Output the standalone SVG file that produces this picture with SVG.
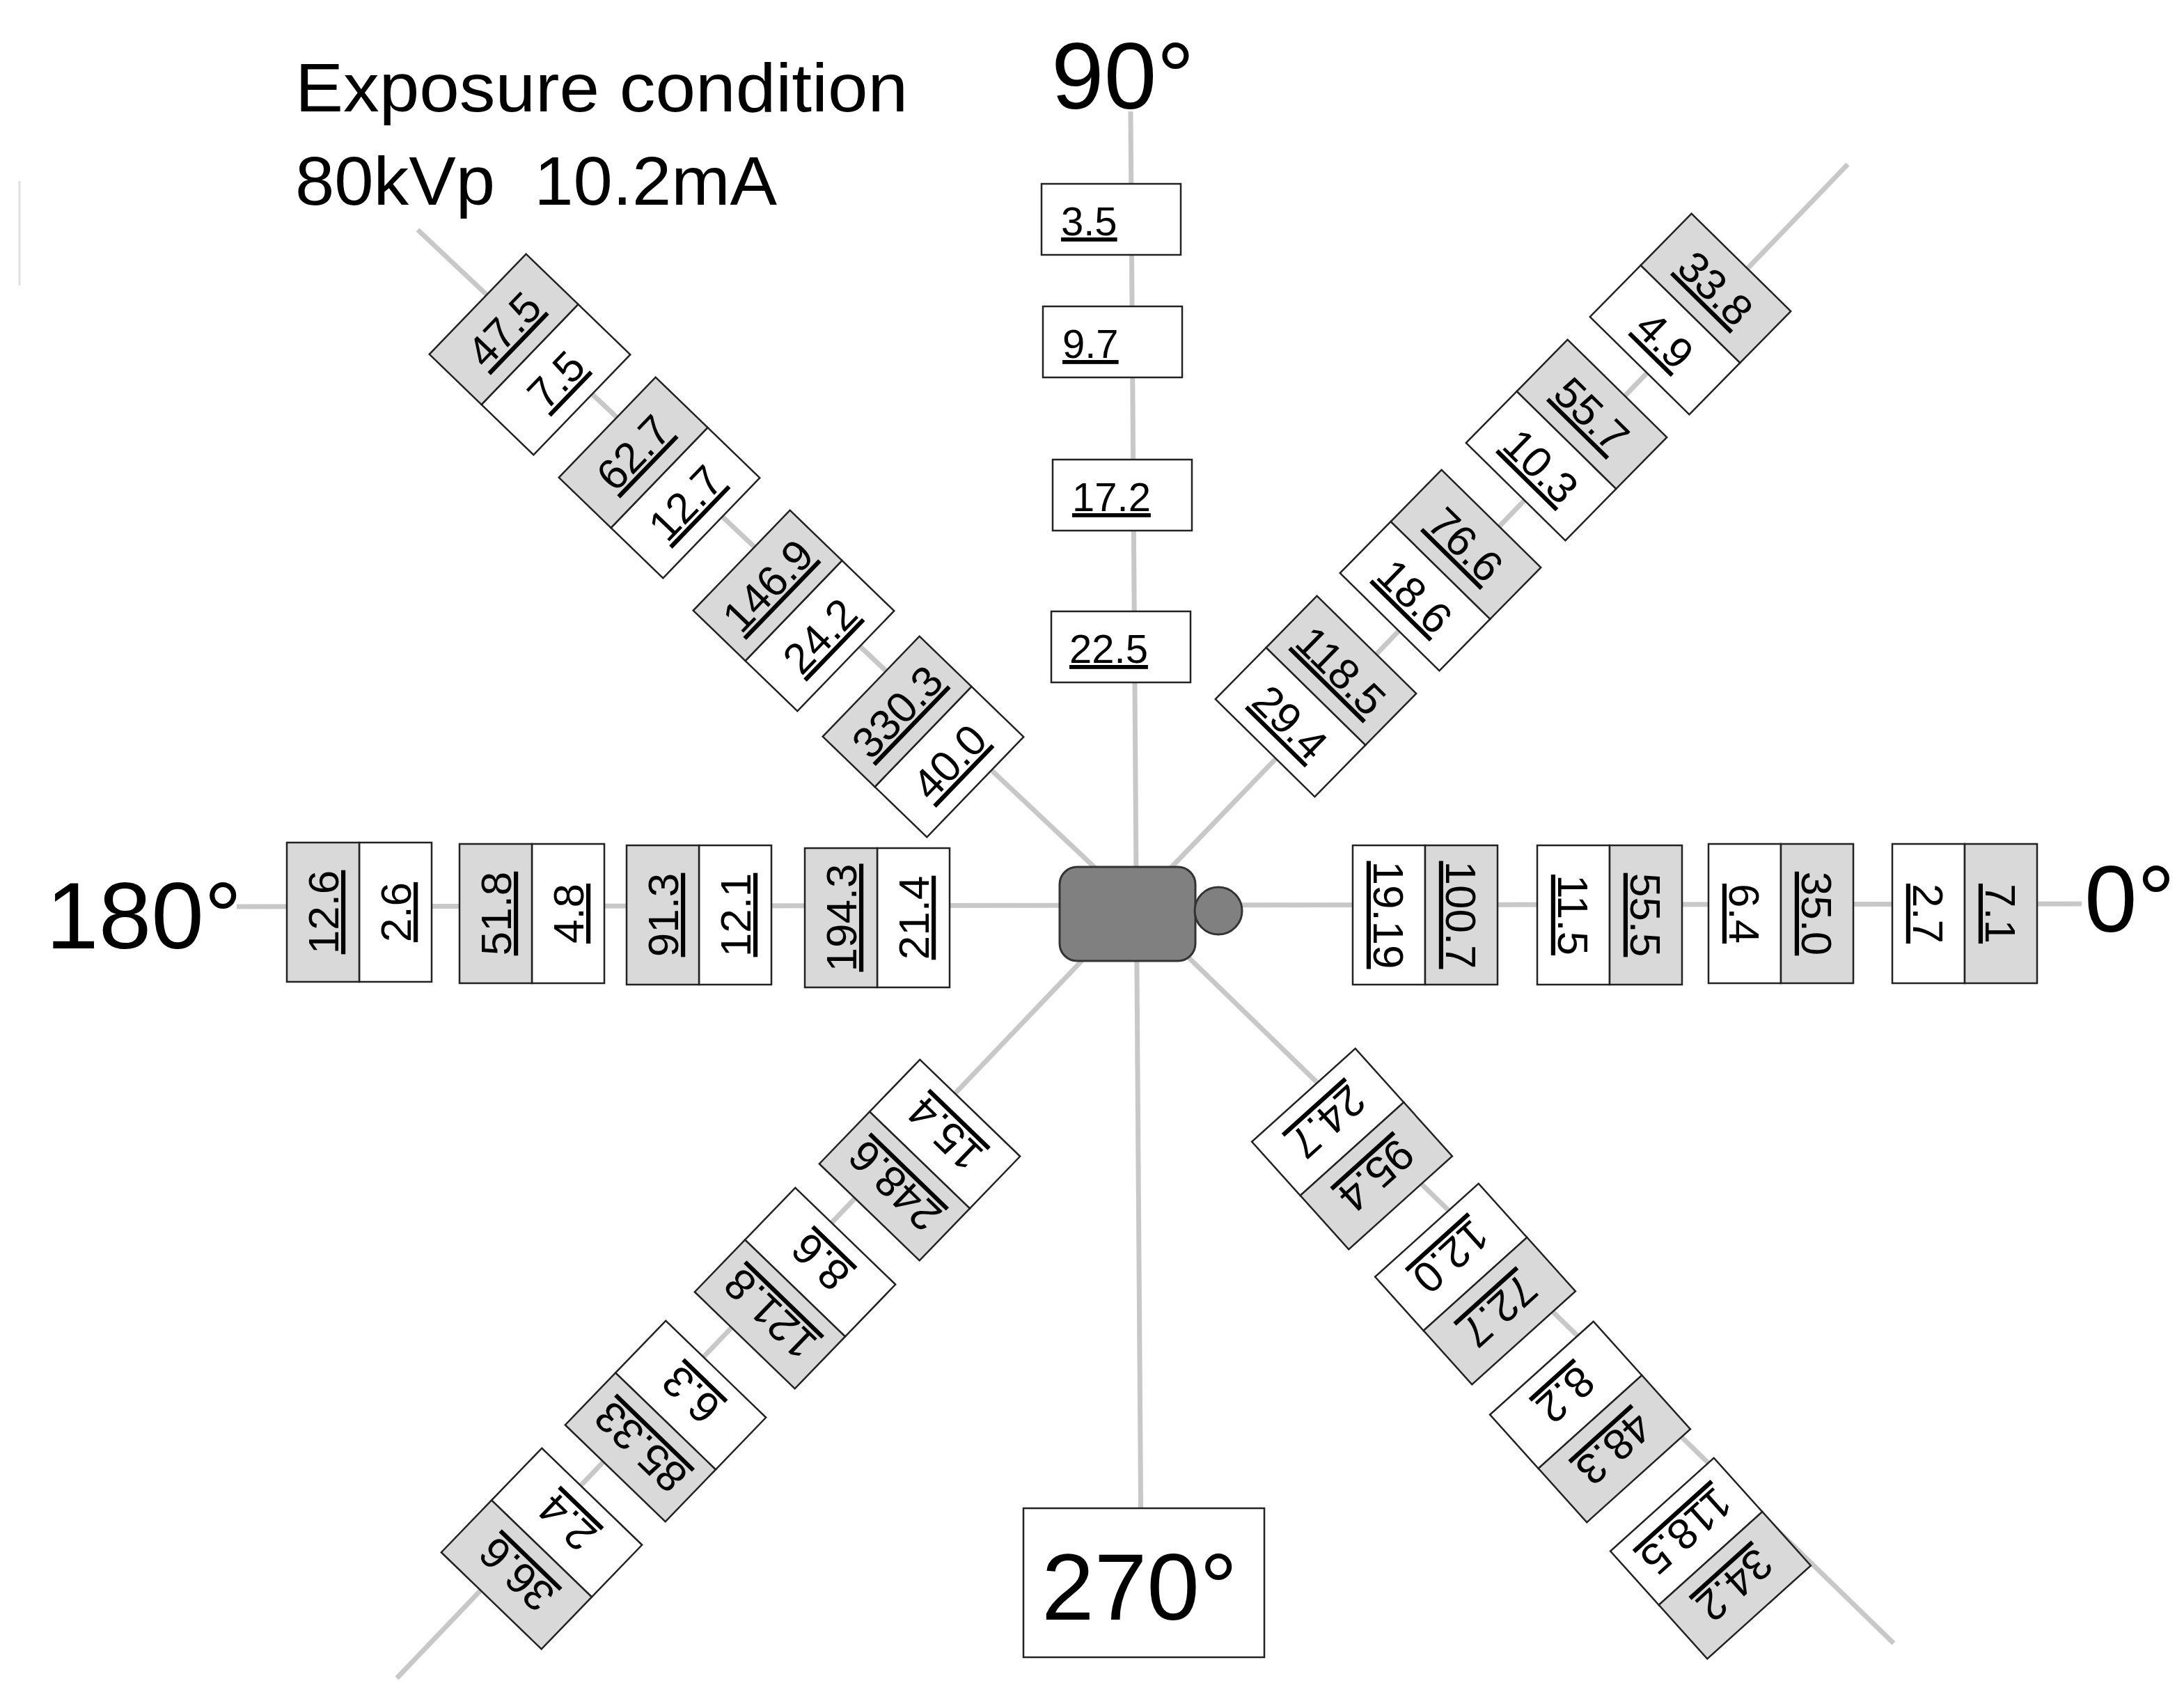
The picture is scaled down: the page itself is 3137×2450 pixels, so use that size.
<svg xmlns="http://www.w3.org/2000/svg" width="3137" height="2450" viewBox="0 0 3137 2450">
<style>
.ln{stroke:#c8c8c8;stroke-width:7;fill:none}
.w{fill:#fff;stroke:#222;stroke-width:2.5}
.g{fill:#d9d9d9;stroke:#222;stroke-width:2.5}
.v{font-family:"Liberation Sans",Arial,sans-serif;font-size:62px;fill:#000;text-decoration:underline;text-anchor:middle}
.h{font-family:"Liberation Sans",Arial,sans-serif;font-size:58px;fill:#000;text-decoration:underline}
.big{font-family:"Liberation Sans",Arial,sans-serif;font-size:136px;fill:#000}
.t{font-family:"Liberation Sans",Arial,sans-serif;font-size:98px;fill:#000}
</style>
<defs>
<g id="pw"><rect class="w" x="-104" y="-100" width="104" height="200"/></g>
<g id="pg"><rect class="g" x="0" y="-100" width="104" height="200"/></g>
</defs>
<rect width="3137" height="2450" fill="#fff"/>
<g id="connectors">
<line class="ln" x1="1624" y1="160" x2="1640" y2="2360"/>
<line class="ln" x1="340" y1="1302" x2="2990" y2="1298"/>
<line class="ln" x1="1630" y1="1300" x2="2654" y2="236"/>
<line class="ln" x1="1630" y1="1300" x2="600" y2="330"/>
<line class="ln" x1="1630" y1="1300" x2="570" y2="2410"/>
<line class="ln" x1="1630" y1="1300" x2="2720" y2="2360"/>
<line x1="28" y1="260" x2="28" y2="410" stroke="#e0e0e0" stroke-width="3"/>
</g>
<g id="title">
<text class="t" x="424" y="160" textLength="880" lengthAdjust="spacingAndGlyphs">Exposure condition</text>
<text class="t" x="424" y="294" textLength="692" lengthAdjust="spacingAndGlyphs" xml:space="preserve">80kVp  10.2mA</text>
</g>
<g id="labels">
<text class="big" x="1510" y="156">90°</text>
<text class="big" x="2994" y="1338">0°</text>
<text class="big" x="66" y="1362">180°</text>
<g id="l270"><rect x="1470" y="2166" width="346" height="214" fill="#fff" stroke="#222" stroke-width="2.5"/><text class="big" x="1496" y="2326">270°</text></g>
</g>
<g id="patient">
<rect x="1522" y="1245" width="195" height="135" rx="25" fill="#808080" stroke="#333" stroke-width="3"/>
<circle cx="1750" cy="1308" r="34" fill="#808080" stroke="#333" stroke-width="3"/>
</g>
<g id="n90">
<g><rect class="w" x="1496" y="264" width="200" height="102"/><text class="h" x="1524" y="338">3.5</text></g>
<g><rect class="w" x="1498" y="440" width="200" height="102"/><text class="h" x="1526" y="514">9.7</text></g>
<g><rect class="w" x="1512" y="660" width="200" height="102"/><text class="h" x="1540" y="734">17.2</text></g>
<g><rect class="w" x="1510" y="878" width="200" height="102"/><text class="h" x="1536" y="952">22.5</text></g>
</g>
<g id="n0">
<g transform="translate(2047,1314) rotate(0)"><use href="#pw"/><use href="#pg"/><text class="v" transform="translate(-52,0) rotate(90)" dy="22">19.19</text><text class="v" transform="translate(52,0) rotate(90)" dy="22">100.7</text></g>
<g transform="translate(2312,1314) rotate(0)"><use href="#pw"/><use href="#pg"/><text class="v" transform="translate(-52,0) rotate(90)" dy="22">11.5</text><text class="v" transform="translate(52,0) rotate(90)" dy="22">55.5</text></g>
<g transform="translate(2558,1312) rotate(0)"><use href="#pw"/><use href="#pg"/><text class="v" transform="translate(-52,0) rotate(90)" dy="22">6.4</text><text class="v" transform="translate(52,0) rotate(90)" dy="22">35.0</text></g>
<g transform="translate(2822,1312) rotate(0)"><use href="#pw"/><use href="#pg"/><text class="v" transform="translate(-52,0) rotate(90)" dy="22">2.7</text><text class="v" transform="translate(52,0) rotate(90)" dy="22">7.1</text></g>
</g>
<g id="n180">
<g transform="translate(516,1310) rotate(180)"><use href="#pw"/><use href="#pg"/><text class="v" transform="translate(-52,0) rotate(90)" dy="22">2.6</text><text class="v" transform="translate(52,0) rotate(90)" dy="22">12.6</text></g>
<g transform="translate(764,1312) rotate(180)"><use href="#pw"/><use href="#pg"/><text class="v" transform="translate(-52,0) rotate(90)" dy="22">4.8</text><text class="v" transform="translate(52,0) rotate(90)" dy="22">51.8</text></g>
<g transform="translate(1004,1314) rotate(180)"><use href="#pw"/><use href="#pg"/><text class="v" transform="translate(-52,0) rotate(90)" dy="22">12.1</text><text class="v" transform="translate(52,0) rotate(90)" dy="22">91.3</text></g>
<g transform="translate(1260,1318) rotate(180)"><use href="#pw"/><use href="#pg"/><text class="v" transform="translate(-52,0) rotate(90)" dy="22">21.4</text><text class="v" transform="translate(52,0) rotate(90)" dy="22">194.3</text></g>
</g>
<g id="n45">
<g transform="translate(2428,451) rotate(-45.5)"><use href="#pw"/><use href="#pg"/><text class="v" transform="translate(-52,0) rotate(90)" dy="22">4.9</text><text class="v" transform="translate(52,0) rotate(90)" dy="22">33.8</text></g>
<g transform="translate(2250,632) rotate(-45.5)"><use href="#pw"/><use href="#pg"/><text class="v" transform="translate(-52,0) rotate(90)" dy="22">10.3</text><text class="v" transform="translate(52,0) rotate(90)" dy="22">55.7</text></g>
<g transform="translate(2069,819) rotate(-45.5)"><use href="#pw"/><use href="#pg"/><text class="v" transform="translate(-52,0) rotate(90)" dy="22">18.6</text><text class="v" transform="translate(52,0) rotate(90)" dy="22">76.6</text></g>
<g transform="translate(1890,1000) rotate(-45.5)"><use href="#pw"/><use href="#pg"/><text class="v" transform="translate(-52,0) rotate(90)" dy="22">29.4</text><text class="v" transform="translate(52,0) rotate(90)" dy="22">118.5</text></g>
</g>
<g id="n135">
<g transform="translate(761,509) rotate(224)"><use href="#pw"/><use href="#pg"/><text class="v" transform="translate(-52,0) rotate(90)" dy="22">7.5</text><text class="v" transform="translate(52,0) rotate(90)" dy="22">47.5</text></g>
<g transform="translate(947,686) rotate(224)"><use href="#pw"/><use href="#pg"/><text class="v" transform="translate(-52,0) rotate(90)" dy="22">12.7</text><text class="v" transform="translate(52,0) rotate(90)" dy="22">62.7</text></g>
<g transform="translate(1140,877) rotate(224)"><use href="#pw"/><use href="#pg"/><text class="v" transform="translate(-52,0) rotate(90)" dy="22">24.2</text><text class="v" transform="translate(52,0) rotate(90)" dy="22">146.9</text></g>
<g transform="translate(1326,1058) rotate(224)"><use href="#pw"/><use href="#pg"/><text class="v" transform="translate(-52,0) rotate(90)" dy="22">40.0</text><text class="v" transform="translate(52,0) rotate(90)" dy="22">330.3</text></g>
</g>
<g id="n225">
<g transform="translate(1321,1666) rotate(134)"><use href="#pw"/><use href="#pg"/><text class="v" transform="translate(-52,0) rotate(90)" dy="22">15.4</text><text class="v" transform="translate(52,0) rotate(90)" dy="22">248.6</text></g>
<g transform="translate(1142,1850) rotate(134)"><use href="#pw"/><use href="#pg"/><text class="v" transform="translate(-52,0) rotate(90)" dy="22">8.6</text><text class="v" transform="translate(52,0) rotate(90)" dy="22">121.8</text></g>
<g transform="translate(956,2041) rotate(134)"><use href="#pw"/><use href="#pg"/><text class="v" transform="translate(-52,0) rotate(90)" dy="22">6.3</text><text class="v" transform="translate(52,0) rotate(90)" dy="22">85.33</text></g>
<g transform="translate(778,2224) rotate(134)"><use href="#pw"/><use href="#pg"/><text class="v" transform="translate(-52,0) rotate(90)" dy="22">2.4</text><text class="v" transform="translate(52,0) rotate(90)" dy="22">36.6</text></g>
</g>
<g id="n315">
<g transform="translate(1942,1650) rotate(48)"><use href="#pw"/><use href="#pg"/><text class="v" transform="translate(-52,0) rotate(90)" dy="22">24.7</text><text class="v" transform="translate(52,0) rotate(90)" dy="22">95.4</text></g>
<g transform="translate(2119,1844) rotate(48)"><use href="#pw"/><use href="#pg"/><text class="v" transform="translate(-52,0) rotate(90)" dy="22">12.0</text><text class="v" transform="translate(52,0) rotate(90)" dy="22">72.7</text></g>
<g transform="translate(2284,2042) rotate(48)"><use href="#pw"/><use href="#pg"/><text class="v" transform="translate(-52,0) rotate(90)" dy="22">8.2</text><text class="v" transform="translate(52,0) rotate(90)" dy="22">48.3</text></g>
<g transform="translate(2457,2238) rotate(48)"><use href="#pw"/><use href="#pg"/><text class="v" transform="translate(-52,0) rotate(90)" dy="22">118.5</text><text class="v" transform="translate(52,0) rotate(90)" dy="22">34.2</text></g>
</g>
</svg>
